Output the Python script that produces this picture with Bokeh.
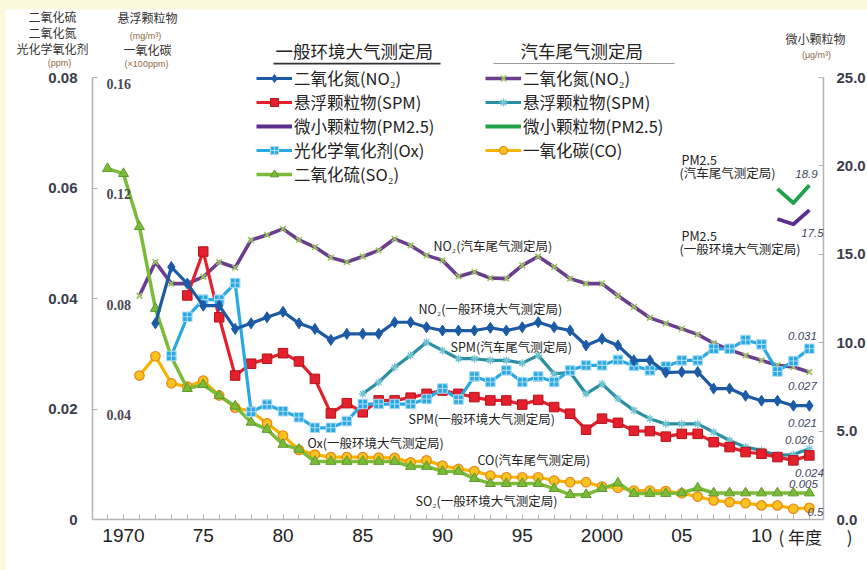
from bokeh.plotting import figure
from bokeh.models import (Range1d, LinearAxis, FixedTicker, PrintfTickFormatter, Legend,
                          LegendItem, Label, LabelSet, ColumnDataSource, BoxAnnotation)
from bokeh.embed import file_html
from bokeh.resources import INLINE

# ---------------- data ----------------
years_so2 = list(range(1969, 2014))
so2 = [0.0635, 0.0626, 0.0530, 0.0382, 0.0294, 0.0237, 0.0244, 0.0224, 0.0205, 0.0176,
       0.0163, 0.0136, 0.0127, 0.0105, 0.0105, 0.0105, 0.0105, 0.0105, 0.0105, 0.0096,
       0.0096, 0.0087, 0.0087, 0.0074, 0.0065, 0.0065, 0.0065, 0.0065, 0.0056, 0.0045,
       0.0045, 0.0056, 0.0066, 0.0047, 0.0047, 0.0047, 0.0048, 0.0057, 0.0048, 0.0048,
       0.0048, 0.0048, 0.0048, 0.0048, 0.0048]

years_co = list(range(1971, 2014))
co = [0.0521, 0.0591, 0.0493, 0.0481, 0.0503, 0.0449, 0.0405, 0.0392, 0.0348, 0.0304,
      0.0252, 0.0235, 0.0226, 0.0226, 0.0226, 0.0224, 0.0223, 0.0207, 0.0214, 0.0195,
      0.0183, 0.0175, 0.0159, 0.0153, 0.0153, 0.0153, 0.0141, 0.0135, 0.0135, 0.0119,
      0.0115, 0.0105, 0.0105, 0.0103, 0.0095, 0.0083, 0.0069, 0.0063, 0.0059, 0.0051,
      0.0051, 0.0039, 0.0042]

years_no2_gen = list(range(1972, 2014))
no2_gen = [0.0355, 0.0457, 0.0427, 0.0387, 0.0387, 0.0345, 0.0355, 0.0366, 0.0376,
           0.0355, 0.0345, 0.0325, 0.0336, 0.0336, 0.0336, 0.0357, 0.0357, 0.0348, 0.0342,
           0.0342, 0.0342, 0.0347, 0.0342, 0.0348, 0.0357, 0.0348, 0.0342, 0.0315, 0.0327,
           0.0315, 0.0288, 0.0288, 0.0266, 0.0267, 0.0267, 0.0237, 0.0237, 0.0224, 0.0215,
           0.0215, 0.0206, 0.0206]

years_no2_road = list(range(1971, 2014))
no2_road = [0.0405, 0.0466, 0.0427, 0.0427, 0.0439, 0.0466, 0.0456, 0.0506, 0.0515, 0.0526,
            0.0506, 0.0493, 0.0474, 0.0466, 0.0476, 0.0487, 0.0508, 0.0496, 0.0478, 0.0469,
            0.0440, 0.0448, 0.0437, 0.0436, 0.0460, 0.0476, 0.0457, 0.0436, 0.0427, 0.0427,
            0.0405, 0.0385, 0.0365, 0.0355, 0.0345, 0.0335, 0.0319, 0.0307, 0.0297, 0.0288,
            0.0279, 0.0276, 0.0267]

years_spm_gen = list(range(1974, 2014))
spm_gen = [0.0811, 0.0970, 0.0732, 0.0521, 0.0564, 0.0582, 0.0602,
           0.0572, 0.0509, 0.0384, 0.0421, 0.0388, 0.0431, 0.0431, 0.0441, 0.0455, 0.0467,
           0.0455, 0.0443, 0.0431, 0.0431, 0.0416, 0.0433, 0.0407, 0.0383, 0.0325, 0.0365,
           0.0350, 0.0321, 0.0320, 0.0300, 0.0310, 0.0310, 0.0280, 0.0262, 0.0244, 0.0238,
           0.0226, 0.0214, 0.0232]

years_spm_road = list(range(1985, 2014))
spm_road = [0.0455, 0.0497, 0.0551, 0.0594, 0.0642, 0.0612,
            0.0582, 0.0582, 0.0576, 0.0576, 0.0566, 0.0594, 0.0527, 0.0533, 0.0455, 0.0491,
            0.0437, 0.0395, 0.0365, 0.0346, 0.0346, 0.0346, 0.0316, 0.0286, 0.0262, 0.0250,
            0.0232, 0.0235, 0.0256]

years_ox = list(range(1973, 2014))
ox = [0.0296, 0.0367, 0.0398, 0.0398, 0.0428, 0.0195, 0.0208, 0.0196,
      0.0185, 0.0166, 0.0166, 0.0178, 0.0209, 0.0209, 0.0209, 0.0209, 0.0218, 0.0237,
      0.0217, 0.0259, 0.0249, 0.0270, 0.0249, 0.0259, 0.0249, 0.0270, 0.0279, 0.0279,
      0.0289, 0.0278, 0.0270, 0.0277, 0.0288, 0.0288, 0.0309, 0.0309, 0.0325, 0.0317,
      0.0268, 0.0287, 0.0309]

years_pm = [2011, 2012, 2013]
pm_gen = [17.0, 16.7, 17.5]
pm_road = [18.7, 17.9, 18.9]

x_ticks = [1970, 1975, 1980, 1985, 1990, 1995, 2000, 2005, 2010]
x_tick_labels = ["1970", "75", "80", "85", "90", "95", "2000", "05", "10"]
minor_years = list(range(1969, 2014))
left_ticks = [0, 0.02, 0.04, 0.06, 0.08]
inner_ticks = [0.04, 0.08, 0.12, 0.16]
inner_tick_labels = ["0.04", "0.08", "0.12", "0.16"]
right_ticks = [0, 5, 10, 15, 20, 25]

legend_general = ["二氧化氮(NO₂)", "悬浮颗粒物(SPM)", "微小颗粒物(PM2.5)", "光化学氧化剂(Ox)", "二氧化硫(SO₂)"]
legend_road = ["二氧化氮(NO₂)", "悬浮颗粒物(SPM)", "微小颗粒物(PM2.5)", "一氧化碳(CO)"]

# ---------------- layout helpers (page pixel -> data) ----------------
CJK = "Noto Sans CJK SC"
NUM = "Liberation Sans"
PAGE_X0, PAGE_Y0 = 5, 9          # where the figure starts on the page
W, H = 862, 561
YEAR_PX = 15.95                  # pixels per year
X_1970 = 123                     # page x of 1970
Y_ZERO = 519                     # page y of value 0
PX_FULL = 442.0                  # pixels for 0.08 on the left scale


def dx(xp):
    return 1970 + (xp - X_1970) / YEAR_PX


def dy(yp):
    return (Y_ZERO - yp) / PX_FULL * 0.08


X0, X1 = dx(PAGE_X0), dx(PAGE_X0 + W)
Y0, Y1 = dy(PAGE_Y0 + H), dy(PAGE_Y0)
AX_LEFT, AX_RIGHT = dx(92), dx(823)

p = figure(width=W, height=H, output_backend="svg", toolbar_location=None,
           x_range=Range1d(X0, X1), y_range=Range1d(Y0, Y1),
           x_axis_location=None, y_axis_location=None,
           min_border=0, min_border_left=0, min_border_right=0, min_border_top=0, min_border_bottom=0)
p.extra_y_ranges = {"spm": Range1d(Y0 * 2, Y1 * 2),
                    "pm": Range1d(Y0 * 25 / 0.08, Y1 * 25 / 0.08)}
p.outline_line_color = None
p.background_fill_color = "white"
p.border_fill_color = "white"
p.grid.visible = False

AX = "#b4b4b4"
# bottom axis
xa = LinearAxis(ticker=FixedTicker(ticks=x_ticks, minor_ticks=minor_years),
                major_label_overrides=dict(zip(x_ticks, x_tick_labels)),
                fixed_location=0, bounds=(AX_LEFT, AX_RIGHT))
xa.axis_line_color = AX
xa.axis_line_width = 1.5
xa.major_tick_line_color = AX
xa.minor_tick_line_color = AX
xa.major_tick_in = 5
xa.major_tick_out = 0
xa.minor_tick_in = 5
xa.minor_tick_out = 0
xa.major_label_standoff = 9
xa.major_label_text_font = NUM
xa.major_label_text_font_size = "19px"
xa.major_label_text_color = "#222222"
p.add_layout(xa, "below")

# left axis (ppm)
ya = LinearAxis(ticker=FixedTicker(ticks=left_ticks), formatter=PrintfTickFormatter(format="%.2f"),
                major_label_overrides={0: "0"}, bounds=(0, 0.08), fixed_location=AX_LEFT)
ya.axis_line_color = AX
ya.axis_line_width = 1.5
ya.major_tick_line_color = AX
ya.major_tick_in = 5
ya.major_tick_out = 0
ya.minor_tick_line_color = None
ya.major_label_standoff = 15
ya.major_label_text_font = NUM
ya.major_label_text_font_style = "bold"
ya.major_label_text_font_size = "15px"
ya.major_label_text_color = "#3b3d4c"
p.add_layout(ya, "left")

# right axis (PM2.5)
ra = LinearAxis(y_range_name="pm", ticker=FixedTicker(ticks=right_ticks),
                formatter=PrintfTickFormatter(format="%.1f"), bounds=(0, 25), fixed_location=AX_RIGHT)
ra.axis_line_color = AX
ra.axis_line_width = 1.5
ra.major_tick_line_color = AX
ra.major_tick_in = 5
ra.major_tick_out = 0
ra.minor_tick_line_color = None
ra.major_label_standoff = 13
ra.major_label_text_font = NUM
ra.major_label_text_font_style = "bold"
ra.major_label_text_font_size = "15px"
ra.major_label_text_color = "#3b3d4c"
p.add_layout(ra, "right")

# inner labels of the SPM / CO scale
inner_src = ColumnDataSource(dict(x=[dx(106)] * len(inner_ticks), y=inner_ticks, t=inner_tick_labels))
p.add_layout(LabelSet(source=inner_src, x="x", y="y", text="t", y_range_name="spm",
                      text_baseline="top", text_align="left", y_offset=-1,
                      text_font=NUM, text_font_style="bold", text_font_size="14px",
                      text_color="#4a4a50"))

# ---------------- series ----------------
def series(xs, ys, color, lw, rng="default", marker=None, size=9, fill=None, mline=None, mlw=1.0):
    rs = [p.line(xs, ys, line_color=color, line_width=lw, y_range_name=rng, line_join="round")]
    if marker:
        rs.append(p.scatter(xs, ys, marker=marker, size=size, fill_color=fill, line_color=mline,
                            line_width=mlw, y_range_name=rng))
    return rs

r_no2_road = series(years_no2_road, no2_road, "#6a3d8f", 3.6, marker="x", size=8, mline="#9cc45c", mlw=1.6)
r_spm_road = series(years_spm_road, spm_road, "#2a8fa2", 3.2, rng="spm", marker="asterisk", size=8,
                    mline="#72c4d2", mlw=1.3)
r_co = series(years_co, co, "#f6b400", 3.2, rng="spm", marker="circle", size=9.5, fill="#f9c21c",
              mline="#e6861a", mlw=1.2)
r_so2 = series(years_so2, so2, "#7cbb3a", 3.5, marker="triangle", size=10, fill="#7cbb3a", mline="#5b9a27")
r_spm_gen = series(years_spm_gen, spm_gen, "#e3202b", 3.2, rng="spm", marker="square", size=9.5,
                   fill="#e3202b", mline="#b5121c")
r_ox = series(years_ox, ox, "#2aa8e2", 3.2, marker="square_cross", size=9.5, fill="#2aa8e2",
              mline="#a9dcf4", mlw=1.1)
r_no2_gen = series(years_no2_gen, no2_gen, "#1c5aa6", 3.2, marker="diamond", size=11, fill="#1c5aa6",
                   mline="#1c5aa6")
r_pm_gen = series(years_pm, pm_gen, "#5c2d91", 3.8, rng="pm")
r_pm_road = series(years_pm, pm_road, "#1fa24a", 3.8, rng="pm")

# ---------------- legends ----------------
ROW = 24
def make_legend(labels, groups, left_px, first_row_px):
    bottom_px = first_row_px - ROW / 2 + ROW * len(labels)
    leg = Legend(items=[LegendItem(label=t, renderers=g) for t, g in zip(labels, groups)],
                 location=(left_px - PAGE_X0, PAGE_Y0 + H - bottom_px),
                 orientation="vertical", padding=0, margin=0, spacing=0,
                 glyph_width=36, glyph_height=20, label_height=20, label_standoff=2,
                 label_text_font=CJK, label_text_font_size="16.5px", label_text_color="#222222",
                 border_line_alpha=0, background_fill_alpha=0)
    p.add_layout(leg)

make_legend(legend_general, [r_no2_gen, r_spm_gen, r_pm_gen, r_ox, r_so2], 256, 78)
make_legend(legend_road, [r_no2_road, r_spm_road, r_pm_road, r_co], 485, 78)


def put(text, xp, yp, size="12px", color="#333333", align="left", font=CJK, style="normal"):
    p.add_layout(Label(x=dx(xp), y=dy(yp), text=text, text_align=align, text_baseline="middle",
                       text_font=font, text_font_size=size, text_color=color, text_font_style=style))

# legend headings + underlines
put("一般环境大气测定局", 275, 50, size="17.5px", color="#222222")
put("汽车尾气测定局", 520, 50, size="17.5px", color="#222222")
p.add_layout(BoxAnnotation(left=dx(273), right=dx(440), bottom=dy(64), top=dy(62.3),
                           fill_color="#333333", fill_alpha=1, line_alpha=0))
p.add_layout(BoxAnnotation(left=dx(493), right=dx(674), bottom=dy(63.6), top=dy(62.6),
                           fill_color="#999999", fill_alpha=1, line_alpha=0))

# axis titles
UNIT = "#8c6a45"
put("二氧化硫", 52, 16, align="center")
put("二氧化氮", 52, 32, align="center")
put("光化学氧化剂", 52, 48, align="center")
put("(ppm)", 59, 62, size="9px", color=UNIT, align="center", font=NUM)
put("悬浮颗粒物", 147, 17, align="center")
put("(mg/m³)", 145, 35, size="9px", color=UNIT, align="center", font=NUM)
put("一氧化碳", 147, 49, align="center")
put("(×100ppm)", 146, 63, size="9px", color=UNIT, align="center", font=NUM)
put("微小颗粒物", 815, 38, align="center")
put("(μg/m³)", 816, 54, size="9px", color=UNIT, align="center", font=NUM)
put("(\u00a0年度\u3000\u00a0\u00a0)", 778, 536, size="17px", color="#222222")

# series annotations
put("NO₂(汽车尾气测定局)", 433, 245, size="12.5px", color="#222222")
put("NO₂(一般环境大气测定局)", 418, 308, size="12.5px", color="#222222")
put("SPM(汽车尾气测定局)", 450, 346, size="12.5px", color="#222222")
put("SPM(一般环境大气测定局)", 408, 418, size="12.5px", color="#222222")
put("Ox(一般环境大气测定局)", 307, 442, size="12.5px", color="#222222")
put("CO(汽车尾气测定局)", 477, 459, size="12.5px", color="#222222")
put("SO₂(一般环境大气测定局)", 415, 500, size="12.5px", color="#222222")
put("PM2.5", 681, 159, size="12.5px", color="#222222")
put("(汽车尾气测定局)", 679, 172, size="12.5px", color="#222222")
put("PM2.5", 681, 235, size="12.5px", color="#222222")
put("(一般环境大气测定局)", 679, 248, size="12.5px", color="#222222")

# end-value labels
VAL = "#3d4660"
for t, xp, yp in [("18.9", 806, 173), ("17.5", 812, 232), ("0.031", 802, 335), ("0.027", 802, 385),
                  ("0.021", 802, 422), ("0.026", 799, 439), ("0.024", 809, 472), ("0.005", 803, 483),
                  ("0.5", 815, 511)]:
    put(t, xp, yp, size="11.5px", color=VAL, align="center", font=NUM, style="italic")

html = file_html(p, INLINE, title="大气污染物浓度推移")
css = ("<style>html{margin:0;padding:0;background:#fcf8de;overflow:hidden}"
       "body{margin:0 !important;padding:9px 0 0 5px !important;box-sizing:border-box;"
       "background:#fcf8de;overflow:hidden}</style>")
html = html.replace("</head>", css + "</head>", 1)
with open("out.html", "w", encoding="utf-8") as f:
    f.write(html)
